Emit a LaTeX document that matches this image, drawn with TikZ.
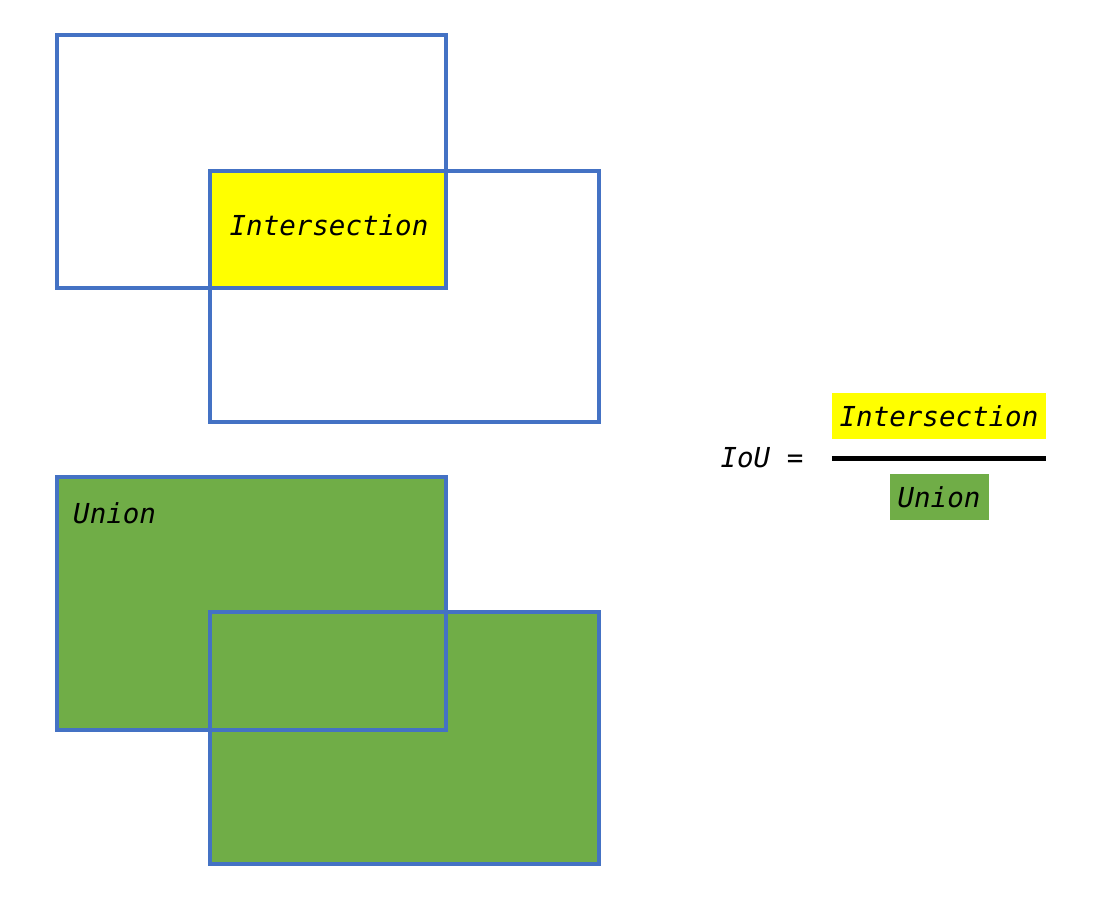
\documentclass[tikz,border=0pt]{standalone}
\usepackage{fontspec}
\setmonofont{DejaVu Sans Mono}
\usetikzlibrary{positioning}
\definecolor{boxblue}{HTML}{4472C4}
\definecolor{ugreen}{HTML}{70AD47}
\definecolor{iyellow}{HTML}{FFFF00}
\begin{document}
\begin{tikzpicture}
[x=1pt,y=-1pt,frame/.style={draw=boxblue,line width=4pt},
  lbl/.style={font=\fontsize{27.5}{30}\selectfont\ttfamily\itshape,inner
    sep=0pt}] \useasboundingbox (0,0) rectangle (1100,900);
% top pair: the intersection
\fill[iyellow] (210,171) rectangle (446,288); \draw[frame] (57,35)
rectangle (446,288); \draw[frame] (210,171) rectangle (599,422);
\node[lbl](inter) at (329,225){Intersection};
% bottom pair: the union
\fill[ugreen] (57,477) rectangle (446,730) (210,612) rectangle
(599,864); \draw[frame] (57,477) rectangle (446,730); \draw[frame]
(210,612) rectangle (599,864); \node[lbl,anchor=west](union) at
(73,513){Union};
% the ratio
\node[lbl](eq) at (762,458){IoU =}; \node[lbl,fill=iyellow,minimum
  width=214pt,minimum height=46pt](num) at (939,416){Intersection};
\node[lbl,fill=ugreen,minimum width=99pt,minimum height=46pt](den) at
(939,497){Union}; \draw[line width=5pt] (num.west |- eq) -- (num.east
|- eq);
\end{tikzpicture}
\end{document}
